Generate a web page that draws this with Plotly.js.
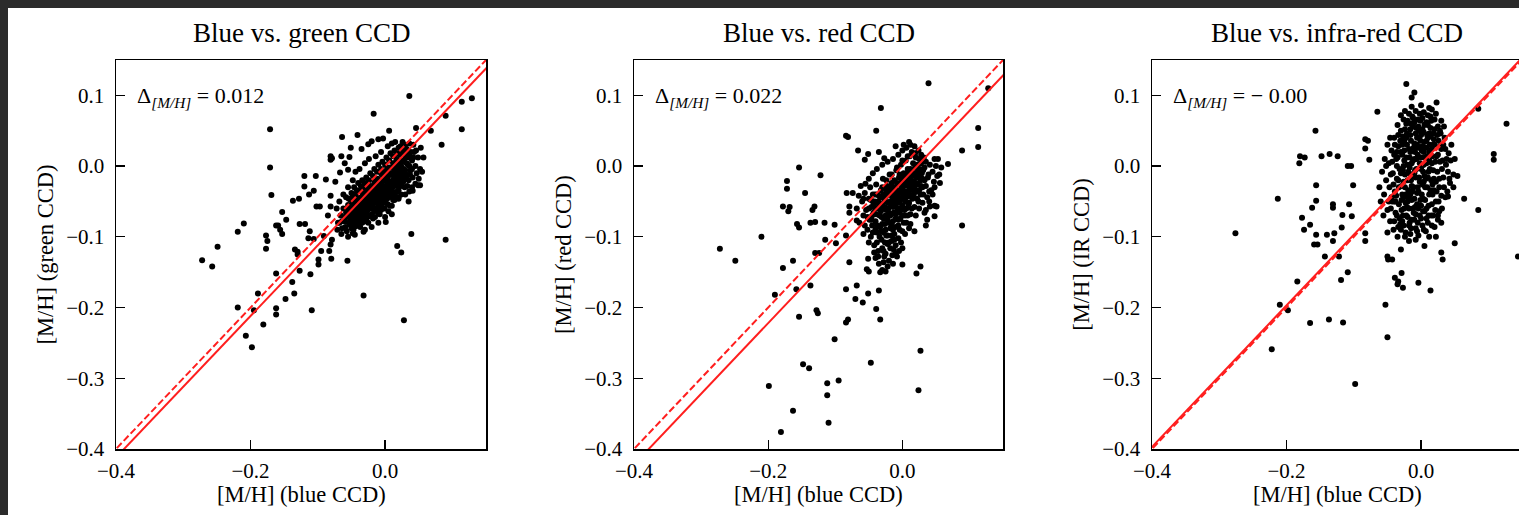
<!DOCTYPE html>
<html>
<head>
<meta charset="utf-8">
<script src="https://cdn.plot.ly/plotly-3.0.1.min.js"></script>
<style>
html,body{margin:0;padding:0;background:#2b2b2b;overflow:hidden;width:1519px;height:515px;}
#plot{position:absolute;left:8px;top:8px;}
</style>
</head>
<body>
<div id="plot"></div>
<script>
// ---------- DATA ----------
const panelTitles = ["Blue vs. green CCD", "Blue vs. red CCD", "Blue vs. infra-red CCD"];
const yLabels = ["[M/H] (green CCD)", "[M/H] (red CCD)", "[M/H] (IR CCD)"];
const xLabel = "[M/H] (blue CCD)";
const deltaValues = [0.012, 0.022, -0.003];
const deltaLabels = ["0.012", "0.022", "\u2212 0.00"];
const xTicks = [-0.4, -0.2, 0.0];
const yTicks = [-0.4, -0.3, -0.2, -0.1, 0.0, 0.1];
const axisRange = [-0.4, 0.15];

// [blue, green]
const greenPairs = [
[-0.017,0.074],[0.036,0.099],[0.129,0.096],[0.114,0.091],[0.090,0.071],[-0.171,0.052],[0.114,0.052],[0.046,0.054],[0.006,0.050],[0.068,0.050],[-0.064,0.041],[-0.041,0.044],[0.084,0.030],[-0.171,-0.002],[-0.169,-0.041],[-0.120,-0.014],[-0.103,-0.014],[-0.120,-0.029],[-0.088,-0.019],[-0.137,-0.049],[-0.128,-0.046],[-0.113,-0.040],[-0.106,-0.035],[-0.153,-0.065],[-0.162,-0.084],[-0.159,-0.084],[-0.147,-0.076],[-0.156,-0.090],[-0.153,-0.096],[-0.210,-0.081],[-0.219,-0.093],[-0.177,-0.098],[-0.175,-0.106],[-0.177,-0.117],[-0.249,-0.114],[-0.272,-0.133],[-0.257,-0.142],[-0.127,-0.082],[-0.119,-0.082],[-0.112,-0.092],[-0.114,-0.102],[-0.134,-0.118],[-0.130,-0.121],[-0.130,-0.125],[-0.095,-0.120],[-0.083,-0.120],[-0.099,-0.132],[-0.099,-0.139],[-0.080,-0.131],[-0.106,-0.103],[-0.091,-0.099],[-0.081,-0.111],[-0.079,-0.104],[-0.127,-0.148],[-0.111,-0.153],[-0.162,-0.152],[-0.138,-0.164],[-0.135,-0.180],[-0.148,-0.188],[-0.189,-0.180],[-0.219,-0.200],[-0.195,-0.204],[-0.162,-0.201],[-0.162,-0.210],[-0.181,-0.224],[-0.109,-0.204],[-0.207,-0.240],[-0.198,-0.256],[-0.032,-0.183],[0.028,-0.218],[-0.056,-0.134],[0.018,-0.113],[0.024,-0.122],[0.039,-0.096],[0.090,-0.104],[0.001,-0.079],[0.041,-0.035],[0.052,-0.027],[0.057,0.012],[0.053,0.026],[-0.071,-0.090],[-0.068,-0.080],[-0.085,-0.070],[-0.081,-0.042],[-0.081,-0.057],[-0.102,-0.057],[-0.097,-0.057],[-0.081,0.014],[-0.081,0.009],[-0.065,0.014],[-0.051,0.026],[-0.053,0.013],[-0.067,-0.009],[-0.055,-0.005],[-0.035,0.024],[-0.025,0.031],[-0.020,0.035],[-0.010,0.038],[-0.003,0.039],[0.015,0.034],[0.023,0.028],[-0.048,-0.095],[-0.032,-0.093],[0.049,-0.027],[0.036,-0.036],[0.020,-0.044],[-0.074,-0.022],[-0.060,0.004],[-0.079,0.011],
[-0.070,-0.080],[-0.066,-0.070],[-0.064,-0.088],[-0.062,-0.060],[-0.060,-0.078],[-0.058,-0.066],[-0.057,-0.092],[-0.055,-0.055],[-0.054,-0.072],[-0.052,-0.083],[-0.051,-0.048],[-0.050,-0.064],[-0.049,-0.058],[-0.048,-0.076],[-0.047,-0.090],[-0.046,-0.052],[-0.045,-0.068],[-0.044,-0.040],[-0.043,-0.061],[-0.042,-0.080],[-0.041,-0.054],[-0.040,-0.070],[-0.039,-0.046],[-0.038,-0.063],[-0.037,-0.086],[-0.036,-0.035],[-0.035,-0.057],[-0.034,-0.072],[-0.033,-0.050],[-0.032,-0.042],[-0.031,-0.065],[-0.030,-0.078],[-0.029,-0.030],[-0.028,-0.055],[-0.027,-0.046],[-0.026,-0.062],[-0.025,-0.038],[-0.024,-0.070],[-0.023,-0.052],[-0.022,-0.028],[-0.021,-0.044],[-0.020,-0.058],[-0.019,-0.036],[-0.018,-0.074],[-0.017,-0.049],[-0.016,-0.022],[-0.015,-0.040],[-0.014,-0.060],[-0.013,-0.031],[-0.012,-0.046],[-0.011,-0.018],[-0.010,-0.054],[-0.009,-0.036],[-0.008,-0.068],[-0.007,-0.026],[-0.006,-0.042],[-0.005,-0.012],[-0.004,-0.050],[-0.003,-0.032],[-0.002,-0.020],[-0.001,-0.060],[0.000,-0.038],[0.001,-0.008],[0.002,-0.028],[0.003,-0.046],[0.004,-0.016],[0.005,-0.034],[0.006,-0.002],[0.007,-0.056],[0.008,-0.022],[0.009,-0.040],[0.010,-0.010],[0.011,-0.030],[0.012,0.004],[0.013,-0.018],[0.014,-0.048],[0.015,-0.006],[0.016,-0.026],[0.017,0.010],[0.018,-0.036],[0.019,-0.014],[0.020,0.002],[0.021,-0.024],[0.022,0.016],[0.023,-0.008],[0.024,-0.040],[0.025,0.006],[0.026,-0.018],[0.027,0.020],[0.028,-0.004],[0.029,-0.030],[0.030,0.012],[0.031,-0.012],[0.032,0.024],[0.034,0.002],[0.035,-0.020],[0.036,0.016],[0.038,-0.006],[0.040,0.008],[0.041,-0.016],[0.043,0.020],[0.045,0.000],[0.047,-0.010],[0.049,0.012],[0.052,-0.004],
[-0.045,-0.048],[-0.042,-0.066],[-0.038,-0.054],[-0.035,-0.044],[-0.033,-0.062],[-0.030,-0.050],[-0.028,-0.040],[-0.026,-0.034],[-0.024,-0.058],[-0.022,-0.046],[-0.020,-0.032],[-0.018,-0.054],[-0.016,-0.040],[-0.014,-0.026],[-0.012,-0.060],[-0.010,-0.030],[-0.008,-0.044],[-0.006,-0.020],[-0.004,-0.036],[-0.002,-0.048],[0.000,-0.014],[0.002,-0.040],[0.004,-0.026],[0.006,-0.012],[0.008,-0.032],[0.010,-0.044],[0.012,-0.020],[0.014,-0.006],[0.016,-0.014],[0.018,-0.002],[0.020,-0.022],[-0.040,-0.084],[-0.036,-0.076],[-0.030,-0.068],[-0.025,-0.080],[-0.020,-0.068],[-0.015,-0.072],[-0.010,-0.066],[-0.005,-0.058],[0.000,-0.052],[0.005,-0.064],[0.010,-0.056],[0.015,-0.042],[0.020,-0.034],[0.025,-0.028],[-0.050,-0.038],[-0.046,-0.030],[-0.040,-0.024],[-0.034,-0.020],[-0.028,-0.016],[-0.022,-0.010],[-0.016,-0.004],[-0.010,0.002],[-0.004,0.006],[0.002,0.012],[0.008,0.018],[0.014,0.022],[0.020,0.026],[-0.058,-0.044],[-0.055,-0.030],[-0.048,-0.020],[-0.044,-0.008],[-0.038,-0.004],[-0.030,0.004],[-0.024,0.010],[-0.014,0.014],[-0.006,0.020],[0.004,0.028],[0.010,0.032],[0.030,-0.040],[0.035,-0.050],[0.040,-0.030],[0.045,-0.025],[0.050,-0.018],[0.055,-0.008],[0.046,0.022],[0.042,0.030],[0.036,0.032],[0.026,0.034],[-0.065,-0.096],[-0.055,-0.100],[-0.045,-0.097],[-0.030,-0.090],[-0.020,-0.086],[-0.010,-0.080],[0.000,-0.072],[0.010,-0.068],[-0.072,-0.060],[-0.068,-0.050],[-0.062,-0.040],
[-0.060,-0.072],[-0.057,-0.062],[-0.054,-0.080],[-0.052,-0.058],[-0.049,-0.068],[-0.047,-0.060],[-0.045,-0.075],[-0.043,-0.052],[-0.041,-0.064],[-0.039,-0.072],[-0.038,-0.045],[-0.036,-0.060],[-0.034,-0.052],[-0.033,-0.040],[-0.031,-0.056],[-0.029,-0.046],[-0.028,-0.064],[-0.026,-0.042],[-0.025,-0.052],[-0.023,-0.036],[-0.022,-0.060],[-0.021,-0.030],[-0.019,-0.048],[-0.018,-0.028],[-0.017,-0.040],[-0.015,-0.052],[-0.014,-0.034],[-0.013,-0.044],[-0.011,-0.024],[-0.010,-0.040],[-0.009,-0.050],[-0.007,-0.032],[-0.006,-0.052],[-0.005,-0.024],[-0.003,-0.042],[-0.002,-0.028],[-0.001,-0.016],[0.001,-0.034],[0.002,-0.020],[0.003,-0.004],[0.005,-0.042],[0.006,-0.024],[0.007,-0.010],[0.009,-0.028],[0.010,-0.002],[0.011,-0.036],[0.013,-0.012],[0.014,-0.028],[0.016,-0.020],[0.017,-0.002],[0.019,-0.028],[0.021,-0.004],[0.022,-0.018],[0.024,0.000],[0.025,-0.012],[0.027,-0.022],[0.028,0.008],[0.030,-0.006],[0.032,0.004],[0.033,-0.028],[0.035,0.012],[0.037,-0.012],[0.038,0.020],[0.040,-0.004],[0.042,0.012],[-0.064,-0.078],[-0.059,-0.086],[-0.050,-0.088],[-0.044,-0.085],[-0.034,-0.080],[-0.026,-0.072],[-0.016,-0.064],[-0.006,-0.062],[0.004,-0.054],[0.012,-0.048],[0.020,-0.046],[-0.054,-0.046],[-0.048,-0.042],[-0.042,-0.034],[-0.036,-0.028],[-0.030,-0.024],[-0.024,-0.020],[-0.018,-0.014],[-0.012,-0.008],[-0.006,-0.004],[0.000,0.002],[0.006,0.008],[0.012,0.014],[0.018,0.018],[0.024,0.024],[0.030,0.030],
[-0.056,-0.070],[-0.052,-0.066],[-0.048,-0.054],[-0.044,-0.070],[-0.040,-0.056],[-0.036,-0.066],[-0.032,-0.056],[-0.028,-0.048],[-0.024,-0.046],[-0.020,-0.042],[-0.016,-0.048],[-0.012,-0.036],[-0.008,-0.030],[-0.004,-0.028],[0.000,-0.030],[0.004,-0.036],[0.008,-0.012],[0.012,-0.028],[0.016,-0.004],[0.020,-0.010],[0.024,-0.018],[0.028,-0.012],[0.032,-0.016],[0.036,0.000],[-0.046,-0.082],[-0.038,-0.078],[-0.028,-0.074],[-0.018,-0.060],[-0.008,-0.054],[0.002,-0.046],[-0.052,-0.074],[-0.042,-0.046],[-0.034,-0.036],[-0.026,-0.026],[-0.016,-0.030],[-0.006,-0.010],[0.004,-0.004],[0.014,0.004],[0.022,0.008],[0.030,0.018]
];

// [blue, red]
const redPairs = [
[0.039,0.117],[0.128,0.110],[-0.032,0.082],[-0.039,0.050],[-0.084,0.043],[-0.081,0.041],[0.113,0.054],[0.113,0.027],[0.089,0.022],[-0.066,0.022],[-0.051,0.017],[-0.035,0.020],[-0.027,0.011],[-0.056,0.009],[-0.154,-0.002],[-0.122,-0.013],[-0.172,-0.021],[-0.172,-0.032],[-0.145,-0.038],[-0.178,-0.057],[-0.168,-0.058],[-0.170,-0.064],[-0.131,-0.057],[-0.134,-0.062],[-0.157,-0.082],[-0.154,-0.087],[-0.137,-0.080],[-0.130,-0.079],[-0.116,-0.080],[-0.101,-0.083],[-0.115,-0.104],[-0.099,-0.109],[-0.084,-0.098],[-0.079,-0.057],[-0.079,-0.066],[-0.068,-0.077],[-0.083,-0.038],[-0.074,-0.038],[-0.058,-0.046],[-0.210,-0.100],[-0.272,-0.117],[-0.249,-0.134],[-0.163,-0.134],[-0.124,-0.123],[-0.130,-0.123],[-0.178,-0.144],[-0.190,-0.182],[-0.158,-0.174],[-0.137,-0.169],[-0.079,-0.136],[-0.084,-0.174],[-0.068,-0.169],[-0.053,-0.146],[-0.051,-0.131],[-0.050,-0.149],[-0.035,-0.176],[-0.051,-0.180],[-0.070,-0.188],[-0.059,-0.193],[-0.128,-0.204],[-0.126,-0.208],[-0.154,-0.213],[-0.081,-0.217],[-0.084,-0.221],[-0.039,-0.202],[-0.033,-0.217],[-0.101,-0.245],[-0.047,-0.278],[-0.148,-0.280],[-0.139,-0.286],[-0.199,-0.311],[-0.112,-0.307],[-0.095,-0.303],[-0.112,-0.324],[-0.163,-0.346],[-0.110,-0.363],[-0.181,-0.376],[0.027,-0.261],[0.024,-0.317],[0.021,-0.152],[0.027,-0.142],[0.000,-0.139],[-0.025,-0.149],[-0.030,-0.147],[0.089,-0.084],[0.068,0.003],[0.056,-0.024],[0.048,-0.056],[0.035,-0.084],[0.037,-0.076],[0.033,-0.066],[0.048,-0.071],[0.041,-0.057],[0.051,-0.057],[0.053,0.010],[0.048,0.010],
[-0.060,-0.050],[-0.058,-0.070],[-0.056,-0.038],[-0.054,-0.062],[-0.052,-0.090],[-0.050,-0.046],[-0.049,-0.076],[-0.048,-0.030],[-0.047,-0.100],[-0.046,-0.058],[-0.045,-0.084],[-0.044,-0.040],[-0.043,-0.066],[-0.042,-0.112],[-0.041,-0.050],[-0.040,-0.078],[-0.039,-0.026],[-0.038,-0.094],[-0.037,-0.060],[-0.036,-0.120],[-0.035,-0.042],[-0.034,-0.070],[-0.033,-0.086],[-0.032,-0.034],[-0.031,-0.104],[-0.030,-0.054],[-0.029,-0.018],[-0.028,-0.074],[-0.027,-0.128],[-0.026,-0.046],[-0.025,-0.090],[-0.024,-0.062],[-0.023,-0.028],[-0.022,-0.110],[-0.021,-0.052],[-0.020,-0.080],[-0.019,-0.012],[-0.018,-0.040],[-0.017,-0.068],[-0.016,-0.098],[-0.015,-0.030],[-0.014,-0.058],[-0.013,-0.118],[-0.012,-0.020],[-0.011,-0.046],[-0.010,-0.086],[-0.009,-0.006],[-0.008,-0.064],[-0.007,-0.036],[-0.006,-0.102],[-0.005,-0.016],[-0.004,-0.052],[-0.003,-0.074],[-0.002,0.002],[-0.001,-0.030],[0.000,-0.092],[0.001,-0.044],[0.002,-0.010],[0.003,-0.062],[0.004,-0.024],[0.005,0.008],[0.006,-0.080],[0.007,-0.036],[0.008,-0.004],[0.009,-0.054],[0.010,-0.018],[0.011,0.014],[0.012,-0.068],[0.013,-0.030],[0.014,-0.008],[0.015,-0.046],[0.016,0.004],[0.017,-0.022],[0.018,-0.058],[0.019,0.018],[0.020,-0.012],[0.021,-0.036],[0.022,0.002],[0.023,-0.026],[0.024,-0.050],[0.025,0.010],[0.026,-0.016],[0.027,-0.040],[0.028,0.004],[0.030,-0.030],[0.031,-0.006],[0.033,-0.020],[0.035,0.006],[0.037,-0.044],[0.039,-0.012],[0.041,0.002],[0.043,-0.034],[0.045,-0.008],[0.047,-0.022],[0.050,0.000],[0.052,-0.014],
[-0.040,-0.060],[-0.036,-0.050],[-0.032,-0.064],[-0.028,-0.040],[-0.026,-0.058],[-0.022,-0.036],[-0.020,-0.066],[-0.018,-0.050],[-0.016,-0.024],[-0.014,-0.078],[-0.012,-0.038],[-0.010,-0.056],[-0.008,-0.024],[-0.006,-0.044],[-0.004,-0.012],[-0.002,-0.060],[0.000,-0.020],[0.002,-0.036],[0.004,-0.050],[0.006,-0.014],[0.008,-0.028],[0.010,-0.040],[0.012,-0.004],[0.014,-0.024],[0.016,-0.034],[0.018,-0.010],[0.020,-0.024],[-0.030,-0.082],[-0.024,-0.098],[-0.018,-0.088],[-0.012,-0.096],[-0.006,-0.084],[0.000,-0.070],[0.006,-0.060],[-0.035,-0.138],[-0.030,-0.116],[-0.025,-0.124],[-0.020,-0.108],[-0.015,-0.126],[-0.010,-0.112],[-0.005,-0.120],[-0.040,-0.130],[-0.038,-0.108],[-0.044,-0.094],[-0.050,-0.108],[-0.033,-0.150],[-0.020,-0.134],[-0.008,-0.128],[-0.055,-0.025],[-0.050,-0.018],[-0.044,-0.010],[-0.038,-0.004],[-0.030,0.002],[-0.022,0.006],[-0.014,0.010],[-0.006,0.016],[0.000,0.022],[0.006,0.026],[0.012,0.030],[0.018,0.028],[-0.062,-0.028],[-0.065,-0.042],[-0.068,-0.060],[-0.064,-0.080],[-0.058,-0.096],[0.020,-0.070],[0.025,-0.060],[0.030,-0.052],[0.035,-0.062],[0.040,-0.050],[0.045,-0.040],[0.048,-0.030],[0.055,-0.012],[0.058,-0.002],[0.028,0.016],[0.032,0.012],[-0.010,0.028],[0.002,0.030],[0.010,0.034],
[-0.050,-0.060],[-0.047,-0.048],[-0.045,-0.070],[-0.043,-0.056],[-0.041,-0.040],[-0.039,-0.068],[-0.037,-0.084],[-0.035,-0.054],[-0.033,-0.044],[-0.031,-0.072],[-0.029,-0.060],[-0.027,-0.050],[-0.025,-0.070],[-0.023,-0.042],[-0.021,-0.060],[-0.019,-0.030],[-0.017,-0.054],[-0.015,-0.044],[-0.013,-0.066],[-0.011,-0.030],[-0.009,-0.048],[-0.007,-0.060],[-0.005,-0.034],[-0.003,-0.024],[-0.001,-0.046],[0.001,-0.030],[0.003,-0.014],[0.005,-0.040],[0.007,-0.022],[0.009,-0.008],[0.011,-0.034],[0.013,-0.016],[0.015,-0.026],[0.017,-0.040],[0.019,-0.002],[0.021,-0.016],[0.023,-0.008],[0.025,-0.034],[0.027,-0.020],[0.029,-0.010],[0.031,-0.040],[0.033,-0.002],[0.035,-0.028],[0.038,-0.016],[0.040,-0.036],[-0.028,-0.094],[-0.022,-0.076],[-0.016,-0.084],[-0.010,-0.074],[-0.004,-0.090],[0.002,-0.080],[0.008,-0.070],[0.014,-0.060],[-0.034,-0.100],[-0.026,-0.108],[-0.018,-0.116],[-0.012,-0.104],[-0.002,-0.108],[-0.042,-0.122],[-0.036,-0.128],[-0.028,-0.136],[-0.022,-0.142],[-0.014,-0.138],[-0.046,-0.076],[-0.052,-0.072],[-0.056,-0.084],[0.012,-0.082],[0.018,-0.092],[-0.030,-0.030],[-0.024,-0.020],[-0.016,-0.012],[-0.008,-0.002],[0.000,0.008],[0.008,0.014],[0.014,0.020],[0.020,0.012],[0.024,0.022],
[-0.044,-0.050],[-0.040,-0.090],[-0.038,-0.040],[-0.034,-0.058],[-0.030,-0.044],[-0.026,-0.082],[-0.024,-0.034],[-0.020,-0.052],[-0.018,-0.070],[-0.016,-0.036],[-0.012,-0.050],[-0.010,-0.068],[-0.008,-0.040],[-0.004,-0.066],[-0.002,-0.038],[0.000,-0.056],[0.002,-0.022],[0.004,-0.070],[0.006,-0.044],[0.008,-0.016],[0.010,-0.052],[0.012,-0.026],[0.014,-0.044],[0.016,-0.012],[0.018,-0.030],[0.022,-0.046],[0.024,-0.014],[0.026,-0.004],[0.028,-0.028],[0.030,-0.018],[-0.032,-0.092],[-0.022,-0.098],[-0.014,-0.090],[-0.006,-0.076],[0.004,-0.096],[0.010,-0.088],[-0.028,-0.120],[-0.016,-0.106],[-0.010,-0.124],[0.000,-0.116]
];

// [blue, IR]
const irPairs = [
[-0.022,0.116],[-0.010,0.104],[-0.014,0.097],[-0.065,0.077],[0.023,0.090],[0.085,0.081],[0.127,0.060],[-0.157,0.050],[0.108,0.017],[0.108,0.009],[-0.180,0.014],[-0.173,0.012],[-0.181,0.004],[-0.148,0.014],[-0.136,0.017],[-0.124,0.014],[-0.109,0.000],[-0.104,0.000],[-0.213,-0.046],[-0.156,-0.027],[-0.156,-0.049],[-0.162,-0.059],[-0.177,-0.073],[-0.174,-0.090],[-0.165,-0.083],[-0.156,-0.097],[-0.159,-0.111],[-0.154,-0.111],[-0.143,-0.128],[-0.131,-0.054],[-0.131,-0.059],[-0.140,-0.097],[-0.129,-0.095],[-0.131,-0.106],[-0.117,-0.069],[-0.118,-0.087],[-0.122,-0.128],[-0.107,-0.054],[-0.103,-0.071],[-0.101,-0.027],[-0.083,0.038],[-0.079,0.036],[-0.083,0.025],[-0.077,0.009],[-0.276,-0.095],[-0.184,-0.163],[-0.210,-0.196],[-0.198,-0.204],[-0.222,-0.259],[-0.165,-0.222],[-0.137,-0.217],[-0.116,-0.221],[-0.098,-0.308],[-0.109,-0.150],[-0.119,-0.161],[-0.083,-0.095],[-0.083,-0.106],[-0.053,-0.196],[-0.050,-0.242],[-0.039,-0.158],[-0.034,-0.163],[-0.029,-0.151],[-0.035,-0.167],[-0.027,-0.172],[-0.004,-0.165],[0.014,-0.176],[0.030,-0.122],[0.032,-0.132],[0.050,-0.109],[0.085,-0.062],[0.064,-0.046],[0.040,-0.043],[0.025,-0.076],[0.048,-0.012],[0.054,-0.014],[0.144,-0.128],[-0.050,-0.128],[-0.049,-0.132],[-0.043,-0.132],[-0.030,-0.118],[-0.018,-0.106],[-0.008,-0.104],[0.005,-0.113],[0.027,-0.064],
[-0.055,-0.040],[-0.052,-0.020],[-0.050,-0.062],[-0.048,0.004],[-0.047,-0.030],[-0.046,-0.078],[-0.044,0.022],[-0.043,-0.050],[-0.042,-0.010],[-0.041,-0.090],[-0.040,0.040],[-0.039,-0.036],[-0.038,-0.066],[-0.037,0.010],[-0.036,-0.018],[-0.035,-0.100],[-0.034,0.028],[-0.033,-0.054],[-0.032,-0.004],[-0.031,-0.082],[-0.030,0.050],[-0.029,-0.028],[-0.028,0.016],[-0.027,-0.070],[-0.026,-0.044],[-0.025,0.036],[-0.024,-0.012],[-0.023,-0.094],[-0.022,0.060],[-0.021,-0.058],[-0.020,0.002],[-0.019,-0.034],[-0.018,0.024],[-0.017,-0.080],[-0.016,0.044],[-0.015,-0.020],[-0.014,-0.048],[-0.013,0.070],[-0.012,0.008],[-0.011,-0.066],[-0.010,0.032],[-0.009,-0.006],[-0.008,-0.088],[-0.007,0.054],[-0.006,-0.038],[-0.005,0.016],[-0.004,-0.060],[-0.003,0.040],[-0.002,-0.022],[-0.001,0.064],[0.000,-0.074],[0.001,0.000],[0.002,0.028],[0.003,-0.046],[0.004,0.048],[0.005,-0.014],[0.006,0.012],[0.007,-0.092],[0.008,0.036],[0.009,-0.030],[0.010,0.058],[0.011,-0.056],[0.012,0.020],[0.013,-0.004],[0.014,0.042],[0.015,-0.070],[0.016,0.004],[0.017,-0.040],[0.018,0.030],[0.019,-0.018],[0.020,0.052],[0.022,-0.050],[0.023,0.014],[0.024,-0.008],[0.026,0.036],[0.027,-0.030],[0.028,0.006],[0.030,0.024],[0.031,-0.060],[0.033,-0.016],[0.035,0.040],[0.037,0.002],[0.039,-0.036],[0.041,0.018],[0.043,-0.024],[0.045,0.030],
[-0.030,-0.010],[-0.028,-0.040],[-0.026,0.000],[-0.024,-0.030],[-0.022,0.012],[-0.020,-0.050],[-0.018,-0.010],[-0.016,0.020],[-0.014,-0.028],[-0.012,-0.060],[-0.010,0.010],[-0.008,-0.016],[-0.006,0.030],[-0.004,-0.036],[-0.002,0.004],[0.000,0.044],[0.002,-0.026],[0.004,0.020],[0.006,-0.048],[0.008,0.004],[0.010,-0.016],[0.012,0.046],[0.014,-0.034],[0.016,0.024],[0.018,-0.006],[-0.025,-0.060],[-0.020,-0.072],[-0.015,-0.088],[-0.010,-0.046],[-0.005,-0.080],[0.000,-0.056],[0.005,-0.064],[0.010,-0.080],[-0.028,0.030],[-0.022,0.040],[-0.016,0.052],[-0.010,0.062],[-0.004,0.056],[0.002,0.068],[0.008,0.062],[0.014,0.070],[0.020,0.066],[0.025,0.056],[-0.035,0.058],[-0.026,0.066],[-0.018,0.074],[-0.008,0.078],[0.004,0.076],[0.016,0.080],[-0.040,-0.050],[-0.045,-0.060],[-0.036,-0.070],[-0.030,-0.090],[-0.024,-0.100],[-0.016,-0.096],[-0.004,-0.098],[0.004,-0.090],[0.012,-0.100],[0.020,-0.086],[0.025,-0.070],[0.030,-0.080],[-0.050,-0.094],[-0.056,-0.070],[-0.060,-0.050],[-0.062,-0.030],[-0.058,-0.008],[-0.054,0.010],[-0.050,0.030],[0.036,-0.044],[0.040,-0.008],[0.044,0.008],[0.048,-0.030],[0.050,0.010],[0.034,0.056],[0.030,0.064],
[-0.030,0.020],[-0.029,-0.048],[-0.027,0.042],[-0.026,-0.022],[-0.025,0.008],[-0.023,-0.040],[-0.022,-0.070],[-0.021,0.030],[-0.019,-0.008],[-0.018,-0.060],[-0.017,0.012],[-0.016,-0.040],[-0.015,0.036],[-0.013,-0.014],[-0.012,0.056],[-0.011,-0.030],[-0.010,-0.076],[-0.009,0.020],[-0.008,0.046],[-0.007,-0.004],[-0.006,-0.054],[-0.005,0.066],[-0.004,0.026],[-0.003,-0.016],[-0.002,-0.070],[-0.001,0.036],[0.000,0.012],[0.001,-0.040],[0.002,0.052],[0.003,-0.008],[0.004,0.002],[0.005,0.034],[0.006,-0.030],[0.007,0.060],[0.008,-0.060],[0.009,0.014],[0.010,0.040],[0.011,-0.008],[0.012,-0.040],[0.013,0.030],[0.014,0.054],[0.015,-0.020],[0.016,-0.054],[0.017,0.014],[0.018,0.046],[0.019,-0.034],[0.020,0.030],[0.021,0.006],[0.022,-0.022],[0.024,0.044],[-0.034,-0.020],[-0.036,0.000],[-0.038,-0.050],[-0.034,0.044],[-0.040,0.016],[-0.032,-0.074],[-0.036,0.020],[0.026,-0.050],[0.028,0.028],[0.032,0.008],[0.034,-0.030],[0.030,-0.042],[-0.020,0.064],[-0.012,0.068],[-0.002,0.074],[0.010,0.072],[-0.028,-0.078],[-0.018,-0.084],[-0.008,-0.068],[0.002,-0.084],[0.018,-0.070],[-0.024,0.052],[-0.014,0.004],[-0.006,0.040],[0.004,-0.022],[0.012,0.008],[-0.020,-0.020],[-0.010,-0.010],[0.000,-0.004],[0.008,0.026],
[-0.045,-0.012],[-0.043,0.006],[-0.041,-0.026],[-0.039,0.030],[-0.037,-0.042],[-0.035,0.012],[-0.033,-0.030],[-0.031,0.036],[-0.029,-0.062],[-0.027,-0.006],[-0.025,0.022],[-0.023,-0.052],[-0.021,0.046],[-0.019,-0.044],[-0.017,-0.002],[-0.015,0.060],[-0.013,-0.036],[-0.011,0.026],[-0.009,-0.058],[-0.007,0.010],[-0.005,-0.030],[-0.003,0.050],[-0.001,-0.048],[0.001,0.022],[0.003,-0.064],[0.005,0.058],[0.007,-0.018],[0.009,0.044],[0.011,-0.070],[0.013,0.016],[0.015,0.064],[0.017,-0.026],[0.019,0.038],[0.021,-0.062],[0.023,-0.036],[0.025,0.016],[0.027,-0.018],[0.029,0.046],[0.031,-0.004],[0.033,0.030],[-0.044,-0.044],[-0.040,-0.078],[-0.034,-0.086],[-0.026,-0.084],[-0.014,-0.076],[-0.006,-0.092],[0.008,-0.074],[0.016,-0.084],[0.022,-0.100],[-0.030,0.072],[-0.024,0.078],[-0.014,0.084],[0.000,0.086],[0.012,0.082],[0.022,0.074],[0.028,0.050],[-0.046,0.040],[-0.048,-0.050],[-0.052,0.000],[0.038,0.010],[0.042,-0.018],[0.036,0.024]
];

const panelData = [greenPairs, redPairs, irPairs];

// ---------- LAYOUT GEOMETRY ----------
const W = 1530, H = 507;
const xPix = [[108, 478], [626, 995], [1144, 1514]];
const yPix = [52, 441];
const serif = "'Liberation Serif', 'Times New Roman', serif";
const RED = "rgb(255,30,30)";

const traces = [];
const layout = {
  width: W, height: H, autosize: false,
  margin: {l: 0, r: 0, t: 0, b: 0, pad: 0},
  paper_bgcolor: "#ffffff", plot_bgcolor: "#ffffff",
  showlegend: false,
  font: {family: serif, color: "#000", size: 21},
  annotations: []
};

const lineX = [axisRange[0] - 0.05, axisRange[1] + 0.05];

for (let i = 0; i < 3; i++) {
  const sfx = i === 0 ? "" : String(i + 1);
  const xa = "x" + sfx, ya = "y" + sfx;
  const pts = panelData[i];
  traces.push({
    type: "scatter", mode: "markers", xaxis: xa, yaxis: ya,
    x: pts.map(p => p[0]), y: pts.map(p => p[1]),
    marker: {color: "#000", size: 6, line: {width: 0}},
    hoverinfo: "skip"
  });
  // dashed one-to-one line
  traces.push({
    type: "scatter", mode: "lines", xaxis: xa, yaxis: ya,
    x: lineX, y: lineX.map(v => v),
    line: {color: RED, width: 2, dash: "7px,3px"}, hoverinfo: "skip"
  });
  // solid offset line
  traces.push({
    type: "scatter", mode: "lines", xaxis: xa, yaxis: ya,
    x: lineX, y: lineX.map(v => v - deltaValues[i]),
    line: {color: RED, width: 2}, hoverinfo: "skip"
  });

  const common = {
    range: axisRange, showgrid: false, zeroline: false,
    showline: true, mirror: true, linecolor: "#000", linewidth: 1.5,
    ticks: "inside", ticklen: 9, tickwidth: 1.3, tickcolor: "#000",
    tickfont: {family: serif, size: 21, color: "#000"},
    tickformat: ".1f", fixedrange: true
  };
  layout["xaxis" + sfx] = Object.assign({}, common, {
    domain: [xPix[i][0] / W, xPix[i][1] / W],
    anchor: ya, tickvals: xTicks, ticklabelstandoff: 2
  });
  layout["yaxis" + sfx] = Object.assign({}, common, {
    domain: [1 - yPix[1] / H, 1 - yPix[0] / H],
    anchor: xa, tickvals: yTicks, ticklabelstandoff: 6,
    title: {text: yLabels[i], font: {family: serif, size: 22.5, color: "#000"}, standoff: 6}
  });

  // panel title
  layout.annotations.push({
    xref: "paper", yref: "paper",
    x: (xPix[i][0] + xPix[i][1]) / 2 / W, y: 1 - 25 / H,
    xanchor: "center", yanchor: "middle", showarrow: false,
    text: panelTitles[i], font: {family: serif, size: 27, color: "#000"}
  });
  // x-axis title
  layout.annotations.push({
    xref: "paper", yref: "paper",
    x: (xPix[i][0] + xPix[i][1]) / 2 / W, y: 1 - 486 / H,
    xanchor: "center", yanchor: "middle", showarrow: false,
    text: xLabel, font: {family: serif, size: 22.5, color: "#000"}
  });
  // delta annotation
  layout.annotations.push({
    xref: xa + " domain", yref: ya + " domain",
    x: 19 / (xPix[i][1] - xPix[i][0]), y: 1 - 37 / (yPix[1] - yPix[0]),
    xanchor: "left", yanchor: "middle", showarrow: false,
    text: "\u0394<sub><span style=\"font-style:italic\">[M/H]</span></sub> = " + deltaLabels[i],
    font: {family: serif, size: 22, color: "#000"}
  });
}

Plotly.newPlot("plot", traces, layout, {displayModeBar: false, staticPlot: true});
</script>
</body>
</html>
